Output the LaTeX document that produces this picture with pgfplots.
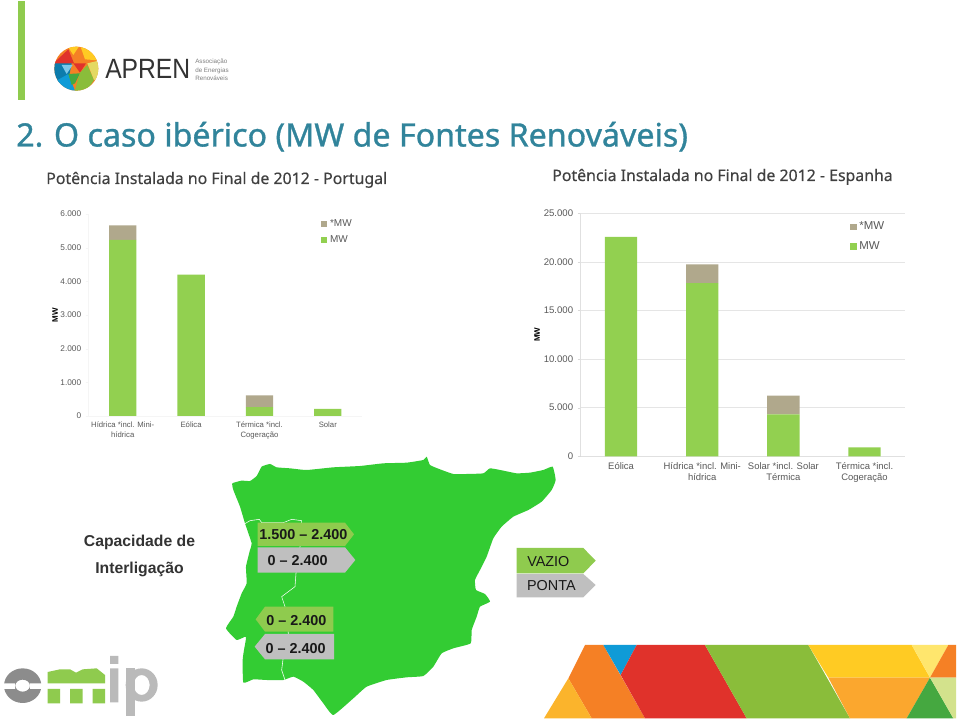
\documentclass[border=0pt]{standalone}
\usepackage{graphicx}
\usepackage{fontspec}
\setmainfont{Liberation Sans}
\newfontfamily\tah{Noto Sans}[FakeBold=0.25]
\newfontfamily\tahb{Noto Sans}[FakeBold=1.0]
\usepackage{pgfplots}
\pgfplotsset{compat=1.18}
\usepackage{pgfplotstable}
\definecolor{barg}{HTML}{92D050}
\definecolor{bart}{HTML}{B0A88C}
\definecolor{mapg}{HTML}{33CC33}
\definecolor{chevg}{HTML}{8FCB4E}
\definecolor{chevy}{HTML}{BFBFBF}
\definecolor{tick}{HTML}{595959}
\definecolor{ttl}{HTML}{31849B}
\definecolor{cor}{HTML}{F58025}
\definecolor{cyo}{HTML}{FBB42C}
\definecolor{cbl}{HTML}{0F9BD7}
\definecolor{cre}{HTML}{E0322B}
\definecolor{cgr}{HTML}{8ABD3A}
\definecolor{cye}{HTML}{FFCB23}
\definecolor{clo}{HTML}{FBA72E}
\definecolor{cpy}{HTML}{FFE66D}
\definecolor{cdg}{HTML}{45A840}
\definecolor{cpg}{HTML}{D3E28C}
\pgfplotstableread{
x mw star
0 5228 435
1 4198 0
2 267 347
3 208 0
}\pt
\pgfplotstableread{
x mw star
0 22565 0
1 17800 1950
2 4320 1920
3 925 0
}\es
\pgfplotsset{
 slide/.style={
  scale only axis, ybar stacked, ymin=0, xmin=-0.5, xmax=3.5,
  xtick={0,1,2,3}, axis y line*=left, axis x line*=bottom,
  /pgf/number format/assume math mode=true,
  /pgf/number format/1000 sep={.},
  scaled y ticks=false,
  tick style={draw=black!15}, tick align=outside,
  major tick length=2pt,
  x tick style={draw=none},
  axis line style={draw=black!12},
  reverse legend,
  legend cell align=left,
  legend style={draw=none, fill=none, inner sep=0pt, outer sep=0pt, text=tick},
  legend image code/.code={\fill[##1] (0pt,-2.3pt) rectangle (4.8pt,2.3pt);},
  every axis y label/.style={rotate=90, anchor=center, font=\bfseries\fontsize{6}{7}\selectfont, text=black},
 }
}
\begin{document}
\begin{tikzpicture}
\path[use as bounding box, fill=white] (0pt,0pt) rectangle (720pt,540pt);
% px frame
\begin{scope}[shift={(0pt,540pt)},x=0.75pt,y=-0.75pt]
\fill[chevg] (18,1) rectangle (25,100);
\node[anchor=base west,inner sep=0pt,text=ttl] at (16,146.5) {\tahb\fontsize{24.15}{28}\selectfont 2.\hspace{8pt}O caso ibérico (MW de Fontes Renováveis)};
\node[anchor=base west,inner sep=0pt,text=black!75] at (46,184) {\tah\fontsize{11.9}{14}\selectfont Potência Instalada no Final de 2012 - Portugal};
\node[anchor=base west,inner sep=0pt,text=black!75] at (552,181) {\tah\fontsize{11.9}{14}\selectfont Potência Instalada no Final de 2012 - Espanha};
\node[anchor=base,inner sep=0pt,text=black!80] at (139.5,547) {\bfseries\fontsize{11.8}{14}\selectfont Capacidade de};
\node[anchor=base,inner sep=0pt,text=black!80] at (139.5,574) {\bfseries\fontsize{11.8}{14}\selectfont Interligação};
\node[anchor=base west,inner sep=0pt,text=black!80] at (105,79) {\scalebox{1}[1.13]{\fontsize{18.5}{20}\selectfont APREN}};
\node[anchor=south west,inner sep=0pt,align=left,text=black!50,font=\fontsize{4.7}{6.3}\selectfont] at (195,81) {Associação\\de Energias\\Renováveis};
\end{scope}
% APREN logo (zoom coordinates, 3x)
\begin{scope}[shift={(0pt,540pt)},x=0.25pt,y=-0.25pt]
\clip (229,206) circle[radius=16.5pt];
\fill[cor] (150,130) rectangle (310,280);
\fill[cre] (155,195) -- (205,148) -- (222,190) -- cycle;
\fill[cye] (200,135) -- (240,135) -- (220,165) -- cycle;
\fill[cye] (240,135) -- (305,135) -- (305,182) -- (255,178) -- cycle;
\fill[cbl!80!black] (155,190) -- (215,190) -- (205,240) -- (155,255) -- cycle;
\fill[cbl!55!white] (185,195) -- (218,195) -- (200,222) -- cycle;
\fill[cre] (220,190) -- (258,190) -- (240,218) -- cycle;
\fill[cbl] (155,250) -- (205,222) -- (228,280) -- (155,280) -- cycle;
\fill[cdg] (205,222) -- (240,220) -- (225,250) -- (215,255) -- cycle;
\fill[cgr] (240,218) -- (262,195) -- (282,240) -- (255,280) -- (222,280) -- cycle;
\fill[cpg!60!cye] (262,190) -- (305,180) -- (305,240) -- (282,240) -- cycle;
\end{scope}
% omip logo (zoom coordinates, 3x)
\begin{scope}[shift={(0pt,60pt)},x=0.25pt,y=-0.25pt]
\fill[black!45,even odd rule] (68,137) circle[x radius=14pt,y radius=13pt] (68,137) circle[x radius=5.5pt,y radius=4.5pt];
\fill[white] (5,130) rectangle (45,147) (90,130) rectangle (130,147);
\fill[chevg] (143,96) -- (180,88) -- (210,88) -- (228,98) -- (248,88) -- (290,85) -- (315,105) -- (315,130) -- (143,130) -- cycle;
\fill[chevg] (143,147) rectangle (180,190) (210,147) rectangle (248,190) (278,147) rectangle (315,190);
\fill[black!27] (330,48) rectangle (355,72) (330,85) rectangle (355,187);
\fill[black!27] (378,85) rectangle (405,228);
\fill[black!27,even odd rule] (425,135) circle[x radius=12pt,y radius=12.5pt] (425,135) circle[x radius=6pt,y radius=7.5pt];
\end{scope}
% banner (zoom coordinates, 3x)
\begin{scope}[shift={(397.5pt,67.5pt)},x=0.25pt,y=-0.25pt]
\fill[cor] (165,45) -- (220,45) -- (345,265) -- (185,265) -- (115,145) -- cycle;
\fill[cyo] (115,145) -- (185,265) -- (42,265) -- cycle;
\fill[cbl] (220,45) -- (320,45) -- (272,135) -- cycle;
\fill[cre] (320,45) -- (525,45) -- (650,265) -- (345,265) -- (272,135) -- cycle;
\fill[cgr] (525,45) -- (835,45) -- (960,265) -- (650,265) -- cycle;
\fill[cye] (835,45) -- (1145,45) -- (1200,143) -- (895,143) -- cycle;
\fill[clo] (895,143) -- (1200,143) -- (1130,265) -- (960,265) -- cycle;
\fill[cpy] (1145,45) -- (1255,45) -- (1200,143) -- cycle;
\fill[cor] (1255,45) -- (1278,45) -- (1278,143) -- (1200,143) -- cycle;
\fill[cdg] (1200,143) -- (1130,265) -- (1270,265) -- cycle;
\fill[cpg] (1200,143) -- (1278,143) -- (1278,265) -- (1270,265) -- cycle;
\end{scope}
% map (zoom coordinates, 3x)
\begin{scope}[shift={(165pt,202.5pt)},x=0.25pt,y=-0.25pt]
\fill[mapg] plot[smooth cycle,tension=0.25] coordinates {(37,100) (65,92) (90,93) (110,78) (125,50) (150,42) (170,52) (210,55) (260,60) (340,52) (420,48) (490,40) (560,38) (610,30) (620,20) (630,45) (660,58) (700,72) (740,72) (790,70) (810,55) (850,62) (890,70) (930,68) (970,60) (998,50) (1007,90) (995,120) (965,155) (925,180) (880,200) (845,230) (820,265) (800,320) (780,360) (765,390) (768,420) (795,432) (810,455) (780,470) (770,500) (755,540) (752,580) (700,595) (665,610) (640,650) (610,678) (560,682) (500,690) (440,710) (400,745) (340,795) (310,760) (280,720) (250,695) (220,680) (190,690) (140,690) (100,688) (70,698) (68,630) (72,600) (78,560) (50,570) (18,535) (40,500) (50,470) (65,430) (80,400) (78,350) (90,300) (95,280) (75,220) (60,170) (40,120)};
\draw[white,line width=0.4pt] (68,225) -- (90,212) -- (118,208) -- (125,218) -- (190,218) -- (215,208) -- (245,212) -- (245,250) -- (240,290) -- (228,370) -- (225,410) -- (185,440) -- (195,470) -- (205,550) -- (190,620) -- (185,660) -- (195,690);
\fill[chevg] (113,218) -- (375,218) -- (402,253) -- (375,288) -- (113,288) -- cycle;
\fill[chevy] (113,292) -- (375,292) -- (406,330) -- (375,368) -- (113,368) -- cycle;
\fill[chevg] (340,470) -- (135,470) -- (107,508) -- (135,545) -- (340,545) -- cycle;
\fill[chevy] (342,552) -- (135,552) -- (104,590) -- (135,628) -- (342,628) -- cycle;
\fill[chevg] (890,294) -- (1090,294) -- (1127,332) -- (1090,370) -- (890,370) -- cycle;
\fill[chevy] (890,372) -- (1090,372) -- (1127,405) -- (1090,442) -- (890,442) -- cycle;
\tikzset{every node/.style={inner sep=0pt,anchor=base,text=black!90}}
\node at (250,270) {\bfseries\fontsize{10.8}{12}\selectfont 1.500 – 2.400};
\node at (233,347) {\bfseries\fontsize{10.8}{12}\selectfont 0 – 2.400};
\node at (229,527) {\bfseries\fontsize{10.8}{12}\selectfont 0 – 2.400};
\node at (227,610) {\bfseries\fontsize{10.8}{12}\selectfont 0 – 2.400};
\node at (985,349) {\fontsize{10.8}{12}\selectfont VAZIO};
\node at (994,423) {\fontsize{10.8}{12}\selectfont PONTA};
\end{scope}
% Portugal
\begin{axis}[slide,
  at={(66.4pt,228pt)}, anchor=south west, width=205.1pt, height=151.5pt,
  ymax=6000, ytick={0,1000,...,6000}, bar width=20.5pt,
  axis line style={draw=black!4}, tick style={draw=black!4},
  xticklabels={{Hídrica *incl. Mini-\\hídrica},{Eólica},{Térmica *incl.\\Cogeração},{Solar}},
  xticklabel style={align=center, text=tick, font=\fontsize{5.8}{7.4}\selectfont, yshift=1pt},
  yticklabel style={text=tick, font=\fontsize{6.2}{8}\selectfont},
  ylabel={MW}, ylabel style={at={(axis description cs:-0.122,0.5)}},
  legend style={at={(rel axis cs:0.85,0.985)}, anchor=north west, row sep=1.2pt, font=\fontsize{7.5}{9}\selectfont},
]
\addplot[fill=barg,draw=none] table[x=x,y=mw] {\pt};
\addplot[fill=bart,draw=none] table[x=x,y=star] {\pt};
\addlegendentry{MW}
\addlegendentry{*MW}
\end{axis}
% Espanha
\begin{axis}[slide,
  at={(435.4pt,197.8pt)}, anchor=south west, width=243.4pt, height=182.25pt,
  ymax=25000, ytick={0,5000,...,25000}, bar width=24.2pt,
  ymajorgrids, grid style={draw=black!10},
  extra x ticks={0.5,1.5,2.5,3.5}, extra x tick labels={}, extra x tick style={tick style={draw=black!15}, grid=none},
  xticklabels={{Eólica},{Hídrica *incl. Mini-\\hídrica},{Solar *incl. Solar\\Térmica},{Térmica *incl.\\Cogeração}},
  xticklabel style={align=center, text=tick, font=\fontsize{7.1}{8.6}\selectfont, yshift=1pt},
  yticklabel style={text=tick, font=\fontsize{7.2}{9}\selectfont},
  ylabel={MW}, ylabel style={at={(axis description cs:-0.134,0.5)}},
  legend style={at={(rel axis cs:0.831,0.975)}, anchor=north west, row sep=3.2pt, font=\fontsize{8.6}{10}\selectfont},
]
\addplot[fill=barg,draw=none] table[x=x,y=mw] {\es};
\addplot[fill=bart,draw=none] table[x=x,y=star] {\es};
\addlegendentry{MW}
\addlegendentry{*MW}
\end{axis}
\end{tikzpicture}
\end{document}
